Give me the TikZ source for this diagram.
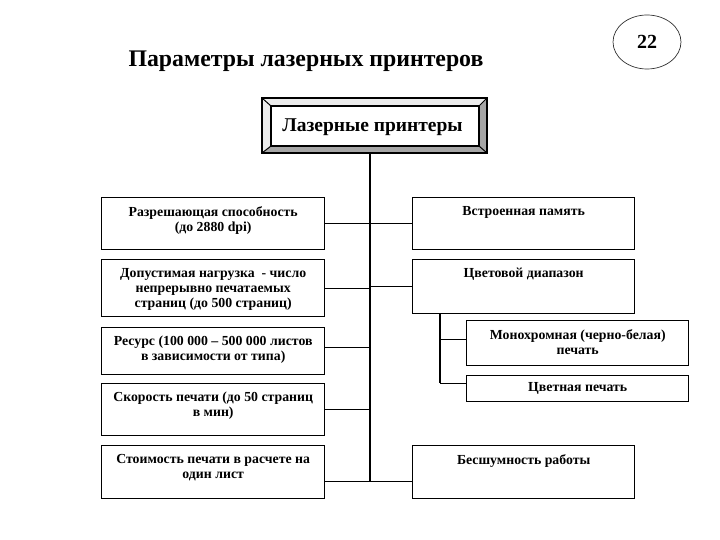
\documentclass[tikz,border=0pt]{standalone}
\usepackage{fontspec}
\setmainfont{Liberation Serif}
\usetikzlibrary{shapes.geometric,calc}
\newcommand{\bxt}[3]{\parbox[c][#2][t]{#1}{\centering\vspace*{8.5pt}#3\par}}
\tikzset{
  pbox/.style={draw=black, line width=1.4pt, inner sep=0pt, font=\bfseries\fontsize{13.8}{15.2}\selectfont},
  conn/.style={draw=black, line width=1.3pt},
}
\begin{document}
\begin{tikzpicture}[x=1pt,y=-1pt]
\useasboundingbox[fill=white] (0,0) rectangle (720,540);
% title
\node[font=\bfseries\fontsize{23.8}{26}\selectfont, anchor=base] (title) at (306,67) {Параметры лазерных принтеров};
% page number
\node[draw=black!80, line width=0.7pt, ellipse, minimum width=68pt, minimum height=54pt, inner sep=0pt, font=\bfseries\fontsize{20}{22}\selectfont] (num) at (647,42) {22};
% top framed box
\fill[white!92!black] (262,98) -- (487,98) -- (479,106) -- (271,106) -- cycle;
\fill[white!92!black] (262,98) -- (271,106) -- (271,146) -- (262,153) -- cycle;
\fill[black!35] (487,98) -- (487,153) -- (479,146) -- (479,106) -- cycle;
\fill[black!35] (262,153) -- (487,153) -- (479,146) -- (271,146) -- cycle;
\draw[line width=1pt] (262,98) -- (271,106) (487,98) -- (479,106) (262,153) -- (271,146) (487,153) -- (479,146);
\draw[line width=1.3pt] (271,106) rectangle (479,146);
\node[draw=black, line width=1.3pt, minimum width=225pt, minimum height=55pt, inner sep=0pt] (top) at (374.5,125.5) {};
\node[font=\fontsize{19.5}{22}\selectfont\bfseries, anchor=base] (toptext) at (372.5,132) {Лазерные принтеры};
% left boxes
\node[pbox, anchor=north west] (L1) at (101,197) {\bxt{223pt}{52pt}{Разрешающая способность\\(до 2880 dpi)}};
\node[pbox, anchor=north west] (L2) at (101,259) {\bxt{223pt}{57pt}{Допустимая нагрузка \ - число\\непрерывно печатаемых\\страниц (до 500 страниц)}};
\node[pbox, anchor=north west] (L3) at (101,327) {\bxt{223pt}{47pt}{Ресурс (100 000 – 500 000 листов\\в зависимости от типа)}};
\node[pbox, anchor=north west] (L4) at (101,383) {\bxt{223pt}{52pt}{Скорость печати (до 50 страниц\\в мин)}};
\node[pbox, anchor=north west] (L5) at (101,445) {\bxt{223pt}{53pt}{Стоимость печати в расчете на\\один лист}};
% right boxes
\node[pbox, anchor=north west] (R1) at (412,197) {\bxt{222pt}{52pt}{Встроенная память}};
\node[pbox, anchor=north west] (R2) at (412,259) {\bxt{222pt}{54pt}{Цветовой диапазон}};
\node[pbox, anchor=north west] (S1) at (466,320) {\bxt{222pt}{45pt}{Монохромная (черно-белая)\\печать}};
\node[pbox, anchor=north west] (S2) at (466,375) {\bxt{222pt}{26pt}{\vspace*{-2pt}Цветная печать}};
\node[pbox, anchor=north west] (R3) at (412,445) {\bxt{222pt}{53pt}{Бесшумность работы}};
% connectors
\coordinate (tb) at (370,481);
\coordinate (st) at (440,383);
\draw[conn] (top.south -| tb) -- (tb);
\draw[conn] (L1.east) -- (L1.east -| tb);
\draw[conn] (L2.east) -- (L2.east -| tb);
\draw[conn] ([yshift=4pt]L3.east) -- ([yshift=4pt]L3.east -| tb);
\draw[conn] (L4.east) -- (L4.east -| tb);
\draw[conn] ([yshift=-9.5pt]L5.east) -- ([yshift=-9.5pt]R3.west);
\draw[conn] (R1.west -| tb) -- (R1.west);
\draw[conn] (R2.west -| tb) -- (R2.west);
\draw[conn] (R2.south -| st) -- (st);
\draw[conn] ([yshift=3.5pt]S1.west -| st) -- ([yshift=3.5pt]S1.west);
\draw[conn] ([yshift=5pt]S2.west -| st) -- ([yshift=5pt]S2.west);
\end{tikzpicture}
\end{document}
